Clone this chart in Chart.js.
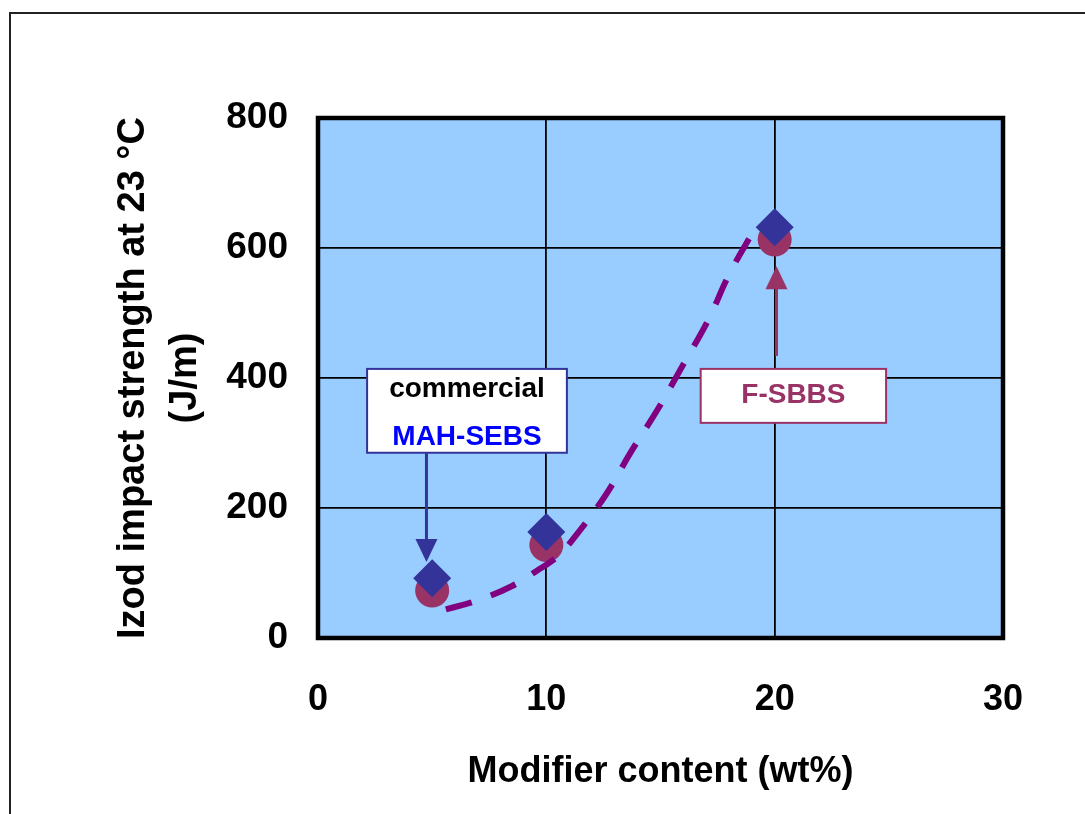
<!DOCTYPE html>
<html lang="en">
<head>
<meta charset="UTF-8">
<title>Izod impact strength vs modifier content</title>
<script src="https://cdn.jsdelivr.net/npm/chart.js"></script>
<style>
  html, body { margin: 0; padding: 0; background: #fff; overflow: hidden; }
  #wrap { position: relative; width: 1085px; height: 814px; }
  #frame { position: absolute; left: 9px; top: 12px; width: 1100px; height: 820px; border: 2px solid #222; pointer-events: none; }
  canvas { position: absolute; left: 0; top: 0; }
</style>
</head>
<body>
<div id="wrap">
  <div id="frame"></div>
  <canvas id="izodChart" width="1085" height="814"></canvas>
</div>
<script>
// modifier content, wt%
const content = [5, 10, 20];
// Izod impact strength at 23 °C, J/m
const mahSebs = [92, 163, 632];   // commercial MAH-SEBS (blue diamonds)
const fSbbs = [73, 143, 613];     // F-SBBS (maroon circles)
// dashed trend curve
const trendX = [5.6, 7, 8.5, 9.7, 10.5, 11.3, 12.6, 13.7, 14.9, 16, 17.1, 18, 19.1];
const trendY = [44, 58, 80, 106, 126, 158, 220, 286, 353, 421, 490, 559, 628];
const xTicks = [0, 10, 20, 30];
const yTicks = [0, 200, 400, 600, 800];

const FONT = "'Liberation Sans', Arial, sans-serif";

// call-out boxes, placed in data units
const notes = [
  { lines: ['commercial', 'MAH-SEBS'], colors: ['#000000', '#0000ff'], textY: [383, 309],
    x0: 2.15, x1: 10.9, yTop: 414, yBot: 285, edge: '#333399',
    arrow: { x: 4.75, from: 285, to: 117 } },
  { lines: ['F-SBBS'], colors: ['#993366'], textY: [374],
    x0: 16.76, x1: 24.88, yTop: 414, yBot: 331, edge: '#993366',
    arrow: { x: 20.08, from: 434, to: 572 } }
];

const plotDecor = {
  id: 'plotDecor',
  beforeDraw(chart) {
    const { ctx, chartArea: a } = chart;
    ctx.save();
    ctx.fillStyle = '#99ccff';
    ctx.fillRect(a.left, a.top, a.right - a.left, a.bottom - a.top);
    ctx.restore();
  },
  beforeDatasetsDraw(chart) {
    const { ctx, chartArea: a, scales: { x, y } } = chart;
    ctx.save();
    ctx.strokeStyle = '#000';
    ctx.lineWidth = 4.5;
    ctx.strokeRect(a.left, a.top, a.right - a.left, a.bottom - a.top);

    notes.forEach(n => {
      // arrow
      const ax = x.getPixelForValue(n.arrow.x);
      const y0 = y.getPixelForValue(n.arrow.from);
      const y1 = y.getPixelForValue(n.arrow.to);
      const dir = y1 > y0 ? 1 : -1;
      ctx.strokeStyle = n.edge;
      ctx.fillStyle = n.edge;
      ctx.lineWidth = 3;
      ctx.beginPath();
      ctx.moveTo(ax, y0);
      ctx.lineTo(ax, y1 - dir * 20);
      ctx.stroke();
      ctx.beginPath();
      ctx.moveTo(ax, y1);
      ctx.lineTo(ax - 11, y1 - dir * 23);
      ctx.lineTo(ax + 11, y1 - dir * 23);
      ctx.closePath();
      ctx.fill();

      // box
      const bx0 = x.getPixelForValue(n.x0), bx1 = x.getPixelForValue(n.x1);
      const by0 = y.getPixelForValue(n.yTop), by1 = y.getPixelForValue(n.yBot);
      ctx.fillStyle = '#fff';
      ctx.fillRect(bx0, by0, bx1 - bx0, by1 - by0);
      ctx.lineWidth = 2;
      ctx.strokeRect(bx0, by0, bx1 - bx0, by1 - by0);

      ctx.font = 'bold 28px ' + FONT;
      ctx.textAlign = 'center';
      ctx.textBaseline = 'middle';
      n.lines.forEach((t, i) => {
        ctx.fillStyle = n.colors[i];
        ctx.fillText(t, (bx0 + bx1) / 2, y.getPixelForValue(n.textY[i]));
      });
    });
    ctx.restore();
  }
};

const ctx = document.getElementById('izodChart').getContext('2d');

new Chart(ctx, {
  type: 'scatter',
  data: {
    datasets: [
      {
        label: 'commercial MAH-SEBS',
        data: content.map((v, i) => ({ x: v, y: mahSebs[i] })),
        pointStyle: 'rectRot',
        pointRadius: 19,
        backgroundColor: '#333399',
        borderWidth: 0
      },
      {
        label: 'trend',
        data: trendX.map((v, i) => ({ x: v, y: trendY[i] })),
        showLine: true,
        borderColor: '#800080',
        borderWidth: 6,
        borderDash: [27, 20],
        tension: 0.4,
        pointRadius: 0,
        fill: false
      },
      {
        label: 'F-SBBS',
        data: content.map((v, i) => ({ x: v, y: fSbbs[i] })),
        pointStyle: 'circle',
        pointRadius: 17,
        backgroundColor: '#993366',
        borderWidth: 0
      }
    ]
  },
  options: {
    responsive: false,
    animation: false,
    events: [],
    devicePixelRatio: 1,
    layout: { padding: { top: 118, right: 82, left: 0, bottom: 0 } },
    plugins: {
      legend: { display: false },
      tooltip: { enabled: false }
    },
    scales: {
      x: {
        type: 'linear',
        min: xTicks[0],
        max: xTicks[xTicks.length - 1],
        afterBuildTicks: s => { s.ticks = xTicks.map(v => ({ value: v })); },
        afterFit: s => { s.height = 176; },
        grid: { color: '#000', lineWidth: 1.8, drawTicks: false },
        border: { display: false },
        ticks: { color: '#000', padding: 40, font: { family: FONT, size: 36, weight: 'bold' } },
        title: {
          display: true,
          text: 'Modifier content (wt%)',
          color: '#000',
          padding: { top: 0, bottom: 20 },
          font: { family: FONT, size: 36, weight: 'bold' }
        }
      },
      y: {
        type: 'linear',
        min: yTicks[0],
        max: yTicks[yTicks.length - 1],
        afterBuildTicks: s => { s.ticks = yTicks.map(v => ({ value: v })); },
        afterFit: s => { s.width = 318; },
        grid: { color: '#000', lineWidth: 1.8, drawTicks: false },
        border: { display: false },
        ticks: { color: '#000', padding: 30, font: { family: FONT, size: 37, weight: 'bold' } },
        title: {
          display: true,
          text: ['Izod impact strength at 23 °C', '(J/m)'],
          color: '#000',
          padding: { top: 107, bottom: 0 },
          font: { family: FONT, size: 38, weight: 'bold', lineHeight: 1.37 }
        }
      }
    }
  },
  plugins: [plotDecor]
});
</script>
</body>
</html>
